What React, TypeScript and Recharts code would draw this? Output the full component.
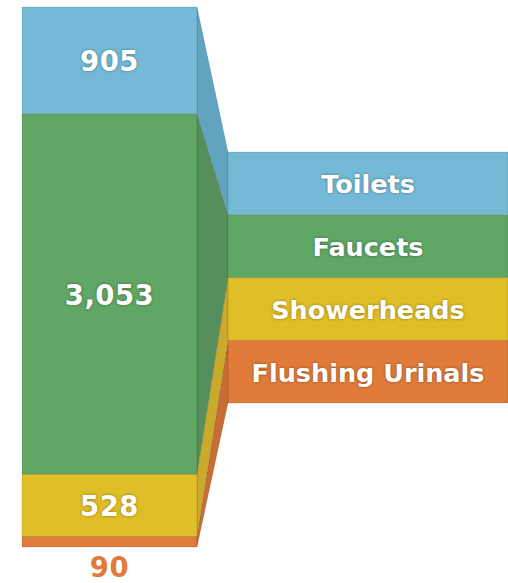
import { Bar, BarChart, LabelList, XAxis, YAxis } from "recharts";

// fixture usage, gallons per day (top of stack first)
const categories = ["Toilets", "Faucets", "Showerheads", "Flushing Urinals"];
const gallons = [905, 3053, 528, 90];
const colors = ["#74bad6", "#60a765", "#e0be27", "#e07b3a"];
const connectorColors = ["#62a3bf", "#578f5c", "#c9aa2b", "#c86d36"];

const data = [
  categories.reduce<Record<string, number | string>>(
    (row, c, i) => ({ ...row, [c]: gallons[i] }),
    { name: "usage" },
  ),
];

const FONT = "'DejaVu Sans', sans-serif";
const SHADOW = "0 0 3px rgba(0,0,0,0.4)";
const GAP = 31; // bar -> legend
const LEGEND_W = 280;
const LEGEND_TOP = 152;
const BOX_H = 62.75;

function makeShape(i: number) {
  return (props: any) => {
    const { x, y, width, height } = props;
    const lx = x + width + GAP;
    const ly = LEGEND_TOP + i * BOX_H;
    return (
      <g>
        <polygon
          points={`${x + width},${y} ${lx},${ly} ${lx},${ly + BOX_H} ${x + width},${y + height}`}
          fill={connectorColors[i]}
          stroke="rgba(0,0,0,0.12)"
          strokeWidth={0.8}
        />
        <rect x={x} y={y} width={width} height={height} fill={colors[i]} stroke="rgba(0,0,0,0.15)" strokeWidth={0.8} />
        <rect x={lx} y={ly} width={LEGEND_W} height={BOX_H} fill={colors[i]} stroke="rgba(0,0,0,0.15)" strokeWidth={0.8} />
        <text
          x={lx + LEGEND_W / 2}
          y={ly + BOX_H / 2 + 1}
          textAnchor="middle"
          dominantBaseline="central"
          fill="#fff"
          fontFamily={FONT}
          fontWeight={700}
          fontSize={25.5}
          style={{ textShadow: SHADOW }}
        >
          {categories[i]}
        </text>
      </g>
    );
  };
}

function valueLabel(i: number) {
  return (props: any) => {
    const { x, y, width, height, value } = props;
    const small = i === categories.length - 1;
    return (
      <text
        x={x + width / 2}
        y={small ? y + height + 20 : y + height / 2 + 1}
        textAnchor="middle"
        dominantBaseline="central"
        fill={small ? colors[i] : "#fff"}
        fontFamily={FONT}
        fontWeight={700}
        fontSize={27.5}
        letterSpacing={0.5}
        style={small ? undefined : { textShadow: SHADOW }}
      >
        {Number(value).toLocaleString("en-US")}
      </text>
    );
  };
}

export default function App() {
  // stack bottom-up, so reverse the top-first order
  const order = categories.map((_, i) => i).reverse();
  return (
    <div style={{ position: "absolute", left: 0, top: 0, background: "#fff" }}>
      <BarChart
        width={508}
        height={583}
        data={data}
        margin={{ top: 7, right: 311, bottom: 36, left: 22 }}
        barCategoryGap={0}
      >
        <XAxis dataKey="name" hide />
        <YAxis hide domain={[0, "dataMax"]} />
        {order.map((i) => (
          <Bar
            key={categories[i]}
            dataKey={categories[i]}
            stackId="a"
            fill={colors[i]}
            shape={makeShape(i)}
            isAnimationActive={false}
          >
            <LabelList dataKey={categories[i]} content={valueLabel(i)} />
          </Bar>
        ))}
      </BarChart>
    </div>
  );
}
